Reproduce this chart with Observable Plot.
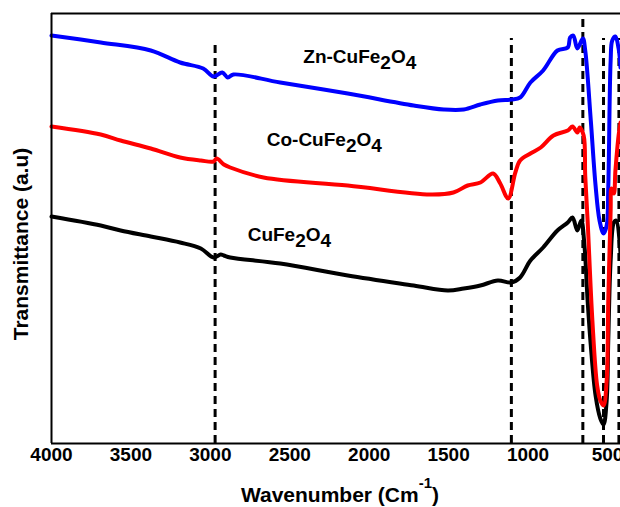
<!DOCTYPE html>
<html><head><meta charset="utf-8">
<script src="https://cdn.jsdelivr.net/npm/d3@7"></script>
<script src="https://cdn.jsdelivr.net/npm/@observablehq/plot@0.6"></script>
<style>html,body{margin:0;padding:0;background:#fff;overflow:hidden}</style>
</head><body><div id="chart"></div>
<script>
// Wavenumber (cm^-1) and transmittance (a.u.)
const znWave = [4000,3690,3375,3190,3045,2980,2925,2890,2855,2560,2135,1720,1530,1405,1300,1190,1105,1050,985,905,815,750,735,715,690,655,640,605,575,550,525,505,495,480,470,450,430,418];
const znT    = [408,401,393,381,375,367,371,366,369,361,350,338,334,334,339,343,344,346,361,373,393,396,406,408,395,405,393,323,258,223,210,218,256,383,403,407,395,376];

const coWave = [4000,3690,3565,3375,3190,3060,2980,2960,2915,2875,2665,2135,1615,1470,1380,1300,1220,1175,1125,1080,1050,985,920,840,750,720,690,675,650,640,625,595,565,545,525,505,495,480,475,460,450,430,418];
const coT    = [317,309,303,295,286,283,282,285,279,276,266,258,249,251,258,261,270,260,245,271,283,290,296,308,313,317,311,316,308,268,223,123,58,43,38,63,143,233,255,250,273,308,321];

const cuWave = [4000,3690,3565,3375,3190,3060,2980,2935,2915,2875,2560,2135,1720,1505,1405,1300,1190,1105,1050,985,905,815,750,720,690,665,645,625,605,575,545,525,505,495,480,460,445,418];
const cuT    = [227,218,213,207,201,195,186,189,188,186,180,168,158,153,155,158,163,161,166,183,196,213,221,226,213,223,198,143,98,48,25,19,43,103,183,221,223,190];

const seriesNames = ["CuFe2O4", "Zn-CuFe2O4", "Co-CuFe2O4"];
const seriesColors = ["#000000", "#0000ff", "#ff0000"];

const dashWave = [2970, 1105, 655, 525, 428];
const dashTop  = [401, 405, 426, 405, 405];

const labelText = ["Zn-CuFe2O4", "Co-CuFe2O4", "CuFe2O4"];
const labelWave = [2415, 2645, 2765];
const labelT    = [387, 304, 209];

const xTicks = [4000, 3500, 3000, 2500, 2000, 1500, 1000, 500];

const toRows = (w, t) => w.map((d, i) => ({w: d, t: t[i]}));
const cuRows = toRows(cuWave, cuT);
const znRows = toRows(znWave, znT);
const coRows = toRows(coWave, coT);
const dashRows = dashWave.map((d, i) => ({w: d, top: dashTop[i]}));
const labelRows = labelText.map((d, i) => ({text: d, w: labelWave[i], t: labelT[i]}));

const chart = Plot.plot({
  width: 620,
  height: 507,
  marginLeft: 51,
  marginRight: 0,
  marginTop: 13,
  marginBottom: 64,
  style: {fontFamily: "'Liberation Sans', Arial, sans-serif", background: "#fff", color: "#000"},
  x: {domain: [4000, 418], label: null},
  y: {domain: [0, 430], axis: null},
  marks: [
    Plot.ruleX(dashRows, {x: "w", y1: 0, y2: "top", stroke: "#000", strokeWidth: 3, strokeDasharray: "8,5"}),
    Plot.line(cuRows, {x: "w", y: "t", stroke: seriesColors[0], strokeWidth: 4, curve: "catmull-rom"}),
    Plot.line(znRows, {x: "w", y: "t", stroke: seriesColors[1], strokeWidth: 4, curve: "catmull-rom"}),
    Plot.line(coRows, {x: "w", y: "t", stroke: seriesColors[2], strokeWidth: 4, curve: "catmull-rom"}),
    Plot.ruleX([4000], {stroke: "#000", strokeWidth: 2}),
    Plot.ruleY([0, 430], {stroke: "#000", strokeWidth: 2}),
    Plot.text(labelRows, {x: "w", y: "t", text: "text", textAnchor: "start", lineAnchor: "middle", fontSize: 19, fontWeight: "bold", fill: "#000"}),
    Plot.axisX({ticks: xTicks, tickSize: 0, tickPadding: 4, fontSize: 19, fontWeight: "bold", tickFormat: d => String(d), label: null})
  ]
});

document.getElementById("chart").appendChild(chart);

const svg = d3.select(chart);

// subscripts in curve labels
svg.selectAll('g[aria-label="text"] text').each(function () {
  const el = d3.select(this);
  const s = el.text();
  el.text(null);
  const parts = s.split(/(\d+)/).filter(p => p.length);
  let shifted = false;
  parts.forEach(p => {
    const isDigit = /^\d+$/.test(p);
    const ts = el.append("tspan").text(p);
    if (isDigit && !shifted) { ts.attr("dy", "0.33em"); shifted = true; }
    else if (!isDigit && shifted) { ts.attr("dy", "-0.33em"); shifted = false; }
  });
});

// x axis title
const xt = svg.append("text")
  .attr("x", 340).attr("y", 502)
  .attr("text-anchor", "middle")
  .attr("font-size", 21).attr("font-weight", "bold").attr("fill", "#000");
xt.append("tspan").text("Wavenumber (Cm");
xt.append("tspan").attr("font-size", 15).attr("dy", -14).text("-1");
xt.append("tspan").attr("dy", 14).text(")");

// y axis title
svg.append("text")
  .attr("transform", "translate(28,244) rotate(-90)")
  .attr("text-anchor", "middle")
  .attr("font-size", 21).attr("font-weight", "bold").attr("fill", "#000")
  .text("Transmittance (a.u)");
</script>
</body></html>
